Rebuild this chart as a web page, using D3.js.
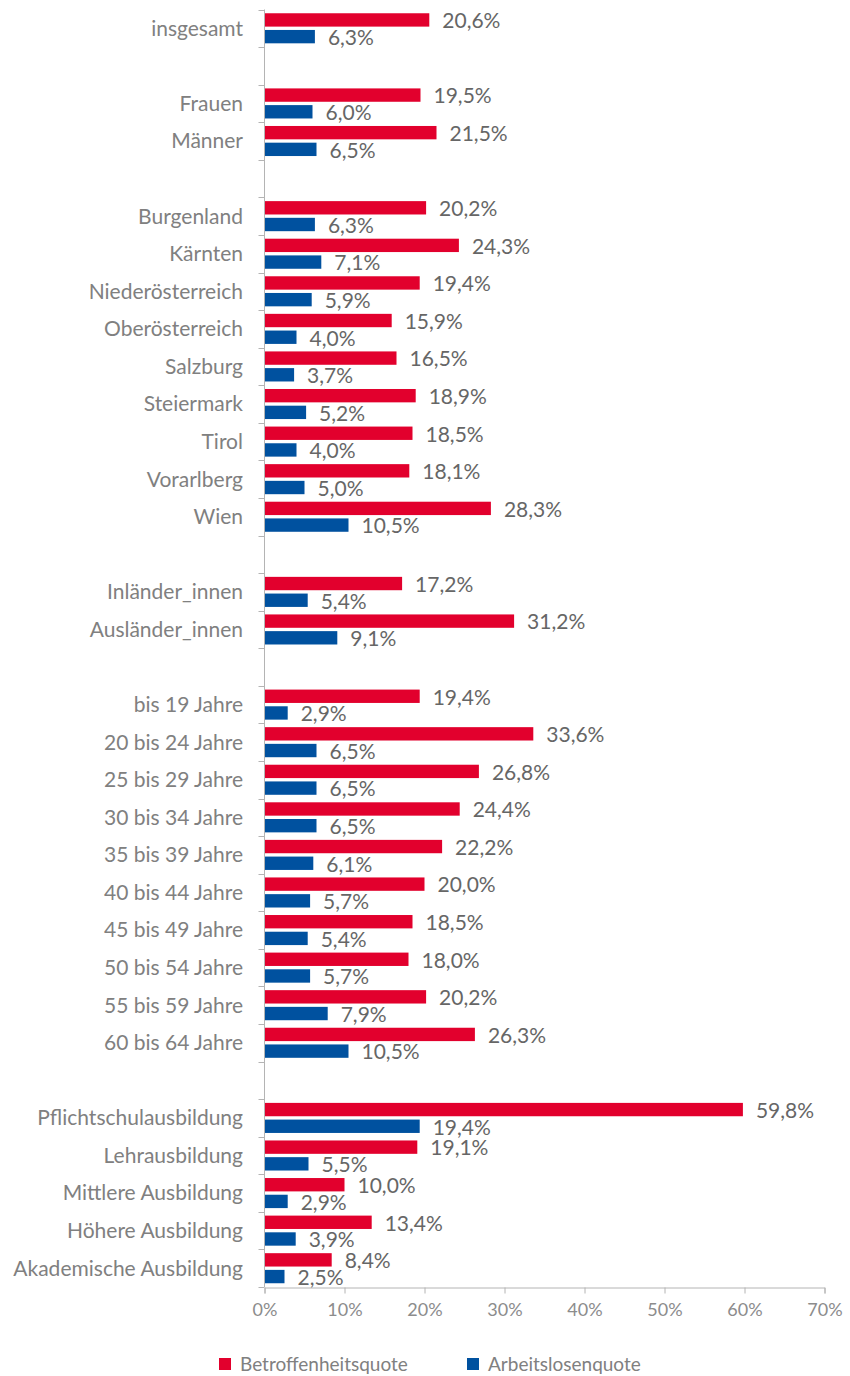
<!DOCTYPE html>
<html>
<head>
<meta charset="utf-8">
<script src="https://cdn.jsdelivr.net/npm/d3@7"></script>
<style>
  body { margin: 0; background: #fff; }
  svg { font-family: Lato, "Open Sans", sans-serif; }
</style>
</head>
<body>
<div id="chart"></div>
<script>
// Kategorien ("" = Leerzeile zwischen den Gruppen)
const categories = [
  "insgesamt", "",
  "Frauen", "Männer", "",
  "Burgenland", "Kärnten", "Niederösterreich", "Oberösterreich", "Salzburg",
  "Steiermark", "Tirol", "Vorarlberg", "Wien", "",
  "Inländer_innen", "Ausländer_innen", "",
  "bis 19 Jahre", "20 bis 24 Jahre", "25 bis 29 Jahre", "30 bis 34 Jahre", "35 bis 39 Jahre",
  "40 bis 44 Jahre", "45 bis 49 Jahre", "50 bis 54 Jahre", "55 bis 59 Jahre", "60 bis 64 Jahre", "",
  "Pflichtschulausbildung", "Lehrausbildung", "Mittlere Ausbildung", "Höhere Ausbildung", "Akademische Ausbildung"
];
const betroffenheitsquote = [
  20.6, null,
  19.5, 21.5, null,
  20.2, 24.3, 19.4, 15.9, 16.5, 18.9, 18.5, 18.1, 28.3, null,
  17.2, 31.2, null,
  19.4, 33.6, 26.8, 24.4, 22.2, 20.0, 18.5, 18.0, 20.2, 26.3, null,
  59.8, 19.1, 10.0, 13.4, 8.4
];
const arbeitslosenquote = [
  6.3, null,
  6.0, 6.5, null,
  6.3, 7.1, 5.9, 4.0, 3.7, 5.2, 4.0, 5.0, 10.5, null,
  5.4, 9.1, null,
  2.9, 6.5, 6.5, 6.5, 6.1, 5.7, 5.4, 5.7, 7.9, 10.5, null,
  19.4, 5.5, 2.9, 3.9, 2.5
];
const seriesNames = ["Betroffenheitsquote", "Arbeitslosenquote"];
const seriesColors = ["#e2002d", "#00519f"];
const xTicks = [0, 10, 20, 30, 40, 50, 60, 70];

const width = 850, height = 1376;
const svg = d3.select("#chart").append("svg")
  .attr("width", width).attr("height", height);

const x = d3.scaleLinear().domain([0, 70]).range([264.5, 824.5]);
const y = d3.scaleBand().domain(d3.range(categories.length)).range([9.5, 1287]);
const ySub = d3.scaleBand().domain([0, 1]).range([0, y.bandwidth()])
  .paddingInner(0.2).paddingOuter(0.225);

const fmt = v => d3.format(".1f")(v).replace(".", ",") + "%";
const axisColor = "#b4b4b4";

// Balken
const rows = categories.map((c, i) => ({ i, c, vals: [betroffenheitsquote[i], arbeitslosenquote[i]] }));
const g = svg.append("g");
rows.filter(d => d.c !== "").forEach(d => {
  d.vals.forEach((v, s) => {
    g.append("rect")
      .attr("x", x(0))
      .attr("y", y(d.i) + ySub(s))
      .attr("width", x(v) - x(0))
      .attr("height", ySub.bandwidth())
      .attr("fill", seriesColors[s]);
    g.append("text")
      .attr("x", x(v) + 13)
      .attr("y", y(d.i) + ySub(s) + ySub.bandwidth() / 2 + 1)
      .attr("dy", "0.35em")
      .attr("font-size", 21)
      .attr("fill", "#666")
      .text(fmt(v));
  });
  g.append("text")
    .attr("x", 243)
    .attr("y", y(d.i) + y.bandwidth() / 2)
    .attr("dy", "0.35em")
    .attr("text-anchor", "end")
    .attr("font-size", 21)
    .attr("fill", "#808080")
    .text(d.c);
});

// linke Achse mit Trennstrichen
const yAxis = svg.append("g");
yAxis.append("line")
  .attr("x1", x(0)).attr("x2", x(0))
  .attr("y1", y.range()[0]).attr("y2", y.range()[1])
  .attr("stroke", axisColor);
d3.range(categories.length + 1).forEach(k => {
  const yy = Math.round(y.range()[0] + k * y.step()) + 0.5;
  yAxis.append("line")
    .attr("x1", x(0) - 6).attr("x2", x(0))
    .attr("y1", yy).attr("y2", yy)
    .attr("stroke", axisColor);
});

// untere Achse
const xAxis = svg.append("g")
  .attr("transform", `translate(0,${Math.round(y.range()[1]) + 0.5})`)
  .call(d3.axisBottom(x).tickValues(xTicks).tickSize(6).tickPadding(10).tickFormat(d => d + "%"));
xAxis.select(".domain").attr("stroke", axisColor);
xAxis.selectAll(".tick line").attr("stroke", axisColor);
xAxis.selectAll(".tick text")
  .attr("font-family", "Lato, sans-serif")
  .attr("font-size", 18)
  .attr("fill", "#8c8c8c");

// Legende
const legendX = [219, 467];
seriesNames.forEach((name, s) => {
  const lg = svg.append("g").attr("transform", `translate(${legendX[s]},1358)`);
  lg.append("rect").attr("width", 12).attr("height", 12).attr("fill", seriesColors[s]);
  lg.append("text")
    .attr("x", 21).attr("y", 6).attr("dy", "0.35em")
    .attr("font-size", 19)
    .attr("fill", "#808080")
    .text(name);
});
</script>
</body>
</html>
